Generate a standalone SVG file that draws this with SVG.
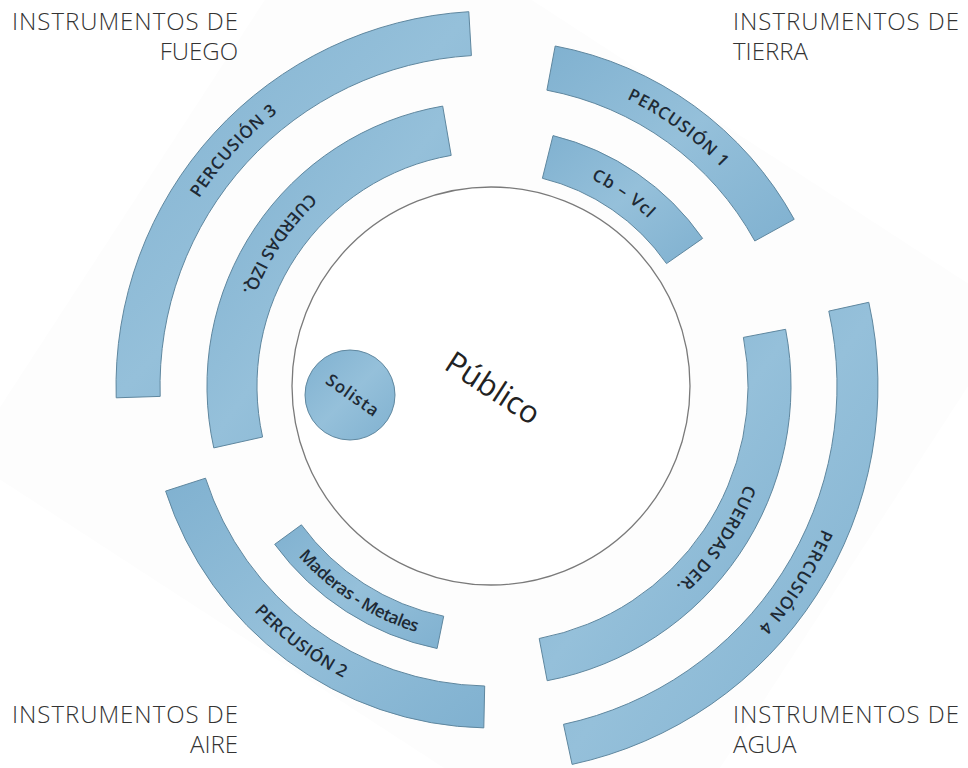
<svg xmlns="http://www.w3.org/2000/svg" width="968" height="768" viewBox="0 0 968 768">
<style>
.band{fill:#8ebbd6;stroke:#5f879f;stroke-width:1}
.lbl{font-family:"Open Sans","Liberation Sans",sans-serif;font-weight:600;font-size:17px;fill:#1e2a35}
.corner{font-family:"Open Sans","Noto Sans",sans-serif;font-weight:300;font-size:24px;fill:#333}
</style>
<defs>
<linearGradient id="gb" x1="0" y1="0" x2="1" y2="1">
<stop offset="0" stop-color="#80b1d0"/>
<stop offset="0.5" stop-color="#95c0da"/>
<stop offset="1" stop-color="#80b1d0"/>
</linearGradient>
<path id="t3" d="M144.2,396.9 A347,347 0 0 1 470.4,39.6"/>
<path id="tci" d="M445.9,124.9 A265,265 0 0 0 232.4,443.8"/>
<path id="t1" d="M550,74 A317.5,317.5 0 0 1 769.2,233"/>
<path id="tcb" d="M546.2,162.7 A230,230 0 0 1 679.6,254.4"/>
<path id="t4" d="M843,308 A360.5,360.5 0 0 1 566.6,738.5"/>
<path id="tcd" d="M758.6,334.5 A272.5,272.5 0 0 1 542.1,653.7"/>
<path id="t2" d="M179.8,486.5 A327,327 0 0 0 484.2,712.9"/>
<path id="tmm" d="M283.6,537.8 A257,257 0 0 0 439.3,637.8"/>
</defs>
<rect width="968" height="768" fill="#fff"/>
<polygon points="638,894 1015,314 344,-122 -33,458" fill="#fdfdfd"/>

<g id="publico">
<circle cx="491" cy="386" r="199" fill="#fff" stroke="#7a7a7a" stroke-width="1.3"/>
<text x="0" y="0" transform="translate(487,397) rotate(33)" text-anchor="middle" font-family="'Open Sans','Liberation Sans',sans-serif" font-size="31" fill="#222">Público</text>
</g>

<g id="solista">
<circle cx="350" cy="395" r="45" fill="url(#gb)" stroke="#5f879f" stroke-width="1"/>
<text x="0" y="0" transform="translate(349,400) rotate(35)" text-anchor="middle" class="lbl" font-size="16" font-weight="500" textLength="60">Solista</text>
</g>

<g id="percusion3">
<path class="band" style="fill:url(#gb)" d="M116.2,397.8 A375,375 0 0 1 468.8,11.7 L471.4,55.6 A331,331 0 0 0 160.2,396.4 Z"/>
<text class="lbl"><textPath href="#t3" startOffset="50%" text-anchor="middle" textLength="117">PERCUSIÓN 3</textPath></text>
</g>

<g id="cuerdas-izq">
<path class="band" style="fill:url(#gb)" d="M213.8,447.9 A284,284 0 0 1 442.7,106.1 L451.2,155.4 A234,234 0 0 0 262.6,437 Z"/>
<text class="lbl"><textPath href="#tci" startOffset="50%" text-anchor="middle" textLength="120">CUERDAS IZQ.</textPath></text>
</g>

<g id="percusion1">
<path class="band" style="fill:url(#gb)" d="M555.2,46 A346,346 0 0 1 794.2,219.3 L754.8,241 A301,301 0 0 0 546.9,90.2 Z"/>
<text class="lbl"><textPath href="#t1" startOffset="50%" text-anchor="middle" textLength="118">PERCUSIÓN 1</textPath></text>
</g>

<g id="cb-vcl">
<path class="band" style="fill:url(#gb)" d="M553,135.6 A258,258 0 0 1 702.6,238.4 L666.5,263.6 A214,214 0 0 0 542.4,178.3 Z"/>
<text class="lbl"><textPath href="#tcb" startOffset="50%" text-anchor="middle" textLength="70">Cb – Vcl</textPath></text>
</g>

<g id="percusion4">
<path class="band" style="fill:url(#gb)" d="M868.8,302.3 A387,387 0 0 1 572.1,764.4 L563.5,724.3 A346,346 0 0 0 828.8,311.1 Z"/>
<text class="lbl"><textPath href="#t4" startOffset="50%" text-anchor="middle" textLength="118">PERCUSIÓN 4</textPath></text>
</g>

<g id="cuerdas-der">
<path class="band" style="fill:url(#gb)" d="M785.6,329.3 A300,300 0 0 1 547.2,680.7 L539.2,638.5 A257,257 0 0 0 743.4,337.4 Z"/>
<text class="lbl"><textPath href="#tcd" startOffset="50%" text-anchor="middle" textLength="124">CUERDAS DER.</textPath></text>
</g>

<g id="percusion2">
<path class="band" style="fill:url(#gb)" d="M483.8,727.9 A342,342 0 0 1 165.6,491.1 L205.5,478.2 A300,300 0 0 0 484.7,686 Z"/>
<text class="lbl"><textPath href="#t2" startOffset="50%" text-anchor="middle" textLength="112">PERCUSIÓN 2</textPath></text>
</g>

<g id="maderas-metales">
<path class="band" style="fill:url(#gb)" d="M437.1,648.5 A268,268 0 0 1 274.7,544.3 L301.4,524.8 A235,235 0 0 0 443.7,616.2 Z"/>
<text class="lbl" font-size="15" font-weight="500"><textPath href="#tmm" startOffset="50%" text-anchor="middle" textLength="142">Maderas - Metales</textPath></text>
</g>

<g id="labels">
<text class="corner" x="238" y="30" text-anchor="end" textLength="226">INSTRUMENTOS DE</text>
<text class="corner" x="238" y="60" text-anchor="end">FUEGO</text>
<text class="corner" x="733" y="30" textLength="226">INSTRUMENTOS DE</text>
<text class="corner" x="733" y="60">TIERRA</text>
<text class="corner" x="238" y="723" text-anchor="end" textLength="226">INSTRUMENTOS DE</text>
<text class="corner" x="238" y="753" text-anchor="end">AIRE</text>
<text class="corner" x="733" y="723" textLength="226">INSTRUMENTOS DE</text>
<text class="corner" x="733" y="753">AGUA</text>
</g>
</svg>
